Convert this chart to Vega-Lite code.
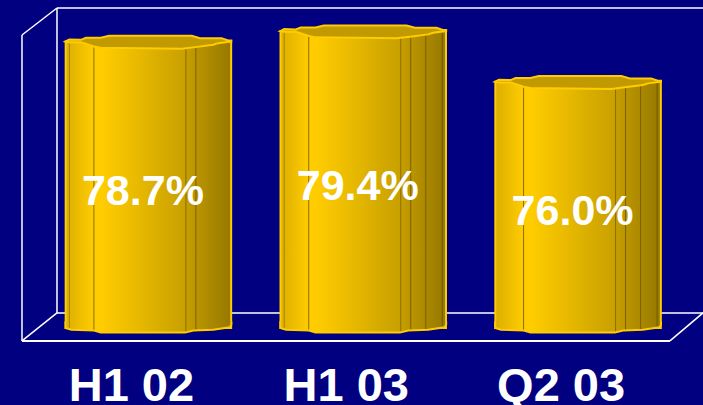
{
  "$schema": "https://vega.github.io/schema/vega-lite/v6.json",
  "width": 703,
  "height": 405,
  "padding": 0,
  "autosize": {"type": "none"},
  "background": "#000080",
  "config": {"view": {"stroke": null}},
  "datasets": {
    "shares": [
      {"period": "H1 02", "share": 0.787, "floor": 0.5947},
      {"period": "H1 03", "share": 0.794, "floor": 0.5947},
      {"period": "Q2 03", "share": 0.76, "floor": 0.5947}
    ],
    "walls": [
      {"edge": "back top", "slot": -0.4261, "level": 0.80948},
      {"edge": "back top", "slot": 2.5822, "level": 0.80948},
      {"edge": "back left", "slot": -0.4261, "level": 0.80948},
      {"edge": "back left", "slot": -0.4261, "level": 0.6048},
      {"edge": "side top", "slot": -0.5891, "level": 0.79136},
      {"edge": "side top", "slot": -0.4261, "level": 0.80948},
      {"edge": "front left", "slot": -0.5891, "level": 0.79136},
      {"edge": "front left", "slot": -0.5891, "level": 0.586},
      {"edge": "side floor", "slot": -0.5891, "level": 0.586},
      {"edge": "side floor", "slot": -0.4261, "level": 0.6048},
      {"edge": "back floor", "slot": -0.4261, "level": 0.6048},
      {"edge": "back floor", "slot": 2.5822, "level": 0.6048},
      {"edge": "front floor", "slot": -0.5891, "level": 0.586},
      {"edge": "front floor", "slot": 2.4283, "level": 0.586},
      {"edge": "right floor", "slot": 2.4283, "level": 0.586},
      {"edge": "right floor", "slot": 2.5822, "level": 0.6048}
    ]
  },
  "resolve": {"scale": {"x": "independent"}},
  "layer": [
    {
      "data": {"name": "walls"},
      "encoding": {
        "x": {"field": "slot", "type": "quantitative", "axis": null, "scale": {"domain": [-0.6915, 2.5822], "range": [0, 703], "nice": false, "zero": false}},
        "y": {"field": "level", "type": "quantitative", "axis": null, "scale": {"domain": [0.543, 0.81485], "nice": false, "zero": false}},
        "detail": {"field": "edge"}
      },
      "layer": [
        {
          "transform": [{"filter": "datum.edge !== 'front floor'"}],
          "mark": {"type": "line", "stroke": "#ffffff", "strokeWidth": 1.5}
        },
        {
          "transform": [{"filter": "datum.edge === 'front floor'"}],
          "mark": {"type": "line", "stroke": "#ffffff", "strokeWidth": 2}
        }
      ]
    },
    {
      "data": {"name": "shares"},
      "encoding": {
        "x": {
          "field": "period",
          "type": "nominal",
          "sort": null,
          "scale": {"type": "band", "range": [41, 685.5], "paddingInner": 0, "paddingOuter": 0},
          "axis": {
            "title": null,
            "orient": "bottom",
            "offset": -42,
            "domain": false,
            "ticks": false,
            "grid": false,
            "labelAngle": 0,
            "labelPadding": 0,
            "labelOffset": -17,
            "labelFont": "Liberation Sans",
            "labelFontWeight": "bold",
            "labelFontSize": 47,
            "labelColor": "#ffffff",
            "labelOverlap": false,
            "labelBound": false,
            "labelFlush": false
          }
        },
        "y": {"field": "share", "type": "quantitative", "axis": null, "scale": {"domain": [0.543, 0.81485], "nice": false, "zero": false}}
      },
      "layer": [
        {
          "mark": {
            "type": "bar",
            "size": 165.5,
            "stroke": "#ffcc00",
            "strokeWidth": 2,
            "fill": {
              "x1": 0, "y1": 0, "x2": 1, "y2": 0,
              "gradient": "linear",
              "stops": [
                {"offset": 0, "color": "#dcae00"},
                {"offset": 0.17, "color": "#ffcc00"},
                {"offset": 0.22, "color": "#ffcc00"},
                {"offset": 0.72, "color": "#c8a000"},
                {"offset": 0.79, "color": "#ba9400"},
                {"offset": 1, "color": "#967800"}
              ]
            }
          },
          "encoding": {"y2": {"field": "floor"}}
        },
        {
          "mark": {
            "type": "point",
            "filled": true,
            "opacity": 1,
            "strokeWidth": 0,
            "size": 27500,
            "shape": "M-1,-0.08L1,-0.08L1,-0.04L0.982,-0.008L0.862,0.008L0.782,0.02L0.543,0.03L0.443,0.056L-0.575,0.056L-0.655,0.03L-0.93,0.02L-1,0Z",
            "fill": {
              "x1": 0, "y1": 0, "x2": 1, "y2": 0,
              "gradient": "linear",
              "stops": [
                {"offset": 0, "color": "#dcae00"},
                {"offset": 0.17, "color": "#ffcc00"},
                {"offset": 0.22, "color": "#ffcc00"},
                {"offset": 0.72, "color": "#c8a000"},
                {"offset": 0.79, "color": "#ba9400"},
                {"offset": 1, "color": "#967800"}
              ]
            }
          },
          "encoding": {"y": {"field": "floor", "type": "quantitative"}}
        },
        {
          "mark": {"type": "rule", "xOffset": -54.5, "stroke": "#8a6c00", "strokeWidth": 1},
          "encoding": {"y2": {"datum": 0.5925}}
        },
        {
          "mark": {"type": "rule", "xOffset": 37.5, "stroke": "#8a6c00", "strokeWidth": 1},
          "encoding": {"y2": {"datum": 0.5925}}
        },
        {
          "mark": {"type": "rule", "xOffset": 47.5, "stroke": "#7a6000", "strokeWidth": 1},
          "encoding": {"y2": {"datum": 0.5925}}
        },
        {
          "transform": [{"filter": "datum.period !== 'Q2 03'"}],
          "mark": {"type": "rule", "xOffset": -79, "stroke": "#a58400", "strokeWidth": 1},
          "encoding": {"y2": {"datum": 0.5935}}
        },
        {
          "transform": [{"filter": "datum.period !== 'H1 02'"}],
          "mark": {"type": "rule", "xOffset": 62.5, "stroke": "#7a6000", "strokeWidth": 1},
          "encoding": {"y2": {"datum": 0.593}}
        },
        {
          "transform": [{"filter": "datum.period !== 'H1 02'"}],
          "mark": {"type": "rule", "xOffset": 79, "stroke": "#6f5800", "strokeWidth": 1},
          "encoding": {"y2": {"datum": 0.5945}}
        },
        {
          "mark": {
            "type": "point",
            "filled": false,
            "opacity": 1,
            "stroke": "#ffcc00",
            "strokeWidth": 2,
            "size": 27500,
            "shape": "M-1,-0.08L-1,0L-0.93,0.02L-0.655,0.03L-0.575,0.056L0.443,0.056L0.543,0.03L0.782,0.02L0.862,0.008L0.982,-0.008L1,-0.04L1,-0.08"
          },
          "encoding": {"y": {"field": "floor", "type": "quantitative"}}
        },
        {
          "mark": {
            "type": "point",
            "filled": true,
            "opacity": 1,
            "fill": "#c09a00",
            "stroke": "#ffcc00",
            "strokeWidth": 2,
            "size": 27500,
            "shape": "M-1,0L-0.954,-0.024L-0.814,-0.02L-0.754,-0.044L-0.575,-0.044L-0.475,-0.068L0.523,-0.068L0.623,-0.04L0.882,-0.04L0.962,-0.012L1,-0.012L1,0L0.842,0.02L0.782,0.04L0.563,0.068L0.403,0.088L-0.575,0.076L-0.655,0.06L-0.814,0.008L-0.954,0.008Z"
          }
        },
        {
          "transform": [
            {"fold": ["share", "floor"], "as": ["bound", "level"]},
            {"aggregate": [{"op": "mean", "field": "level", "as": "middle"}], "groupby": ["period", "share"]}
          ],
          "mark": {
            "type": "text",
            "font": "Liberation Sans",
            "fontWeight": "bold",
            "fontSize": 43,
            "fill": "#ffffff",
            "baseline": "middle",
            "dx": -5.5,
            "dy": 7.5
          },
          "encoding": {
            "y": {"field": "middle", "type": "quantitative"},
            "text": {"field": "share", "type": "quantitative", "format": ".1%"}
          }
        }
      ]
    }
  ]
}
